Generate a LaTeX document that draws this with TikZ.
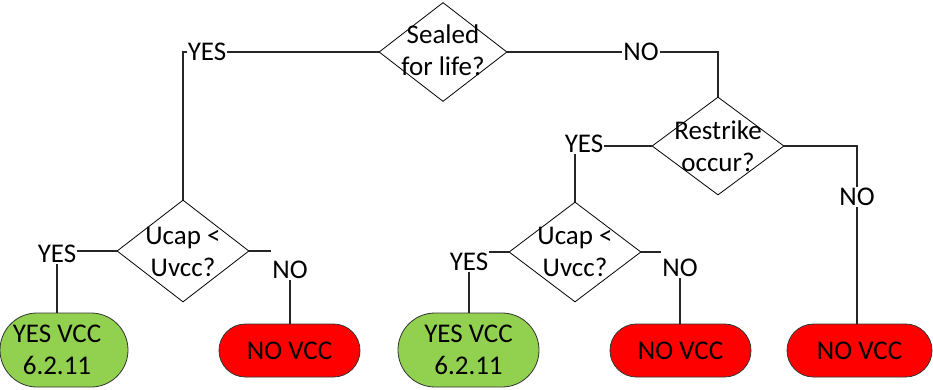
\documentclass[tikz,border=0pt]{standalone}
\usepackage{fontspec}
\setmainfont{Carlito}
\usetikzlibrary{shapes.geometric,shapes.misc}
\definecolor{okgreen}{HTML}{92D050}
\definecolor{nored}{HTML}{FF0000}
\begin{document}
\begin{tikzpicture}[x=1pt,y=-1pt,
  dia/.style={draw=black, line width=0.8pt, shape=diamond, inner sep=0pt},
  txt/.style={font=\fontsize{27}{32}\selectfont, align=center, inner sep=0pt},
  lbl/.style={font=\fontsize{27}{32}\selectfont, inner sep=1pt},
  conn/.style={draw=black!85, line width=1.3pt},
  okbox/.style={draw=black!80, line width=0.8pt, fill=okgreen, rounded rectangle, minimum height=74pt, inner sep=0pt},
  nobox/.style={draw=black!80, line width=0.8pt, fill=nored, rounded rectangle, minimum height=53pt, minimum width=141pt, inner sep=0pt, font=\fontsize{27}{32}\selectfont}
]
\useasboundingbox (0,0) rectangle (933,389);

% diamonds
\node[dia, minimum width=128pt, minimum height=99pt] (d1) at (443,52) {};
\node[txt] (d1t) at (443,50) {Sealed\\for life?};
\node[dia, minimum width=132pt, minimum height=102pt] (d2) at (183,251) {};
\node[txt] (d2t) at (183,252) {Ucap <\\Uvcc?};
\node[dia, minimum width=132pt, minimum height=98pt] (d4) at (718,146) {};
\node[txt] (d4t) at (718,146) {Restrike\\occur?};
\node[dia, minimum width=132pt, minimum height=100pt] (d3) at (575,252) {};
\node[txt] (d3t) at (575,252) {Ucap <\\Uvcc?};

% labels
\node[lbl] (yes1) at (207,52) {YES};
\node[lbl] (no1) at (641,52) {NO};
\node[lbl] (yes2) at (57,254) {YES};
\node[lbl] (no2) at (290,270) {NO};
\node[lbl] (yes3) at (584,144) {YES};
\node[lbl] (yes4) at (469,262) {YES};
\node[lbl] (no3) at (680,268) {NO};
\node[lbl] (no4) at (857,197) {NO};

% terminal boxes
\node[okbox, minimum width=128pt] (g1) at (64,350) {};
\node[txt] (g1t) at (57,350) {YES VCC\\6.2.11};
\node[okbox, minimum width=141pt, txt, inner sep=0pt] (g2) at (468.5,350) {YES VCC\\6.2.11};
\node[nobox] (r1) at (289.5,350.5) {NO VCC};
\node[nobox] (r2) at (680.5,350.5) {NO VCC};
\node[nobox, minimum width=145pt] (r3) at (859.5,350.5) {NO VCC};

% connectors
\path[conn] (d1.west) -- (yes1.east);
\path[conn] (yes1.west) -| (d2.north);
\path[conn] (d1.east) -- (no1.west);
\path[conn] (no1.east) -| (d4.north);
\path[conn] (d2.west) -- (d2.west -| yes2.east);
\path[conn] (yes2.south) -- (yes2.south |- g1.north);
\path[conn] (d2.east) -- (d2.east -| no2.west);
\path[conn] (no2.south) -- (no2.south |- r1.north);
\path[conn] (d4.west) -- (d4.west -| yes3.east);
\path[conn] (yes3.south -| d3.north) -- (d3.north);
\path[conn] (d3.west) -- (d3.west -| yes4.east);
\path[conn] (yes4.south) -- (yes4.south |- g2.north);
\path[conn] (d3.east) -- (d3.east -| no3.west);
\path[conn] (no3.south) -- (no3.south |- r2.north);
\path[conn] (d4.east) -| (no4.north);
\path[conn] (no4.south) -- (r3.north -| no4.south);
\end{tikzpicture}
\end{document}
